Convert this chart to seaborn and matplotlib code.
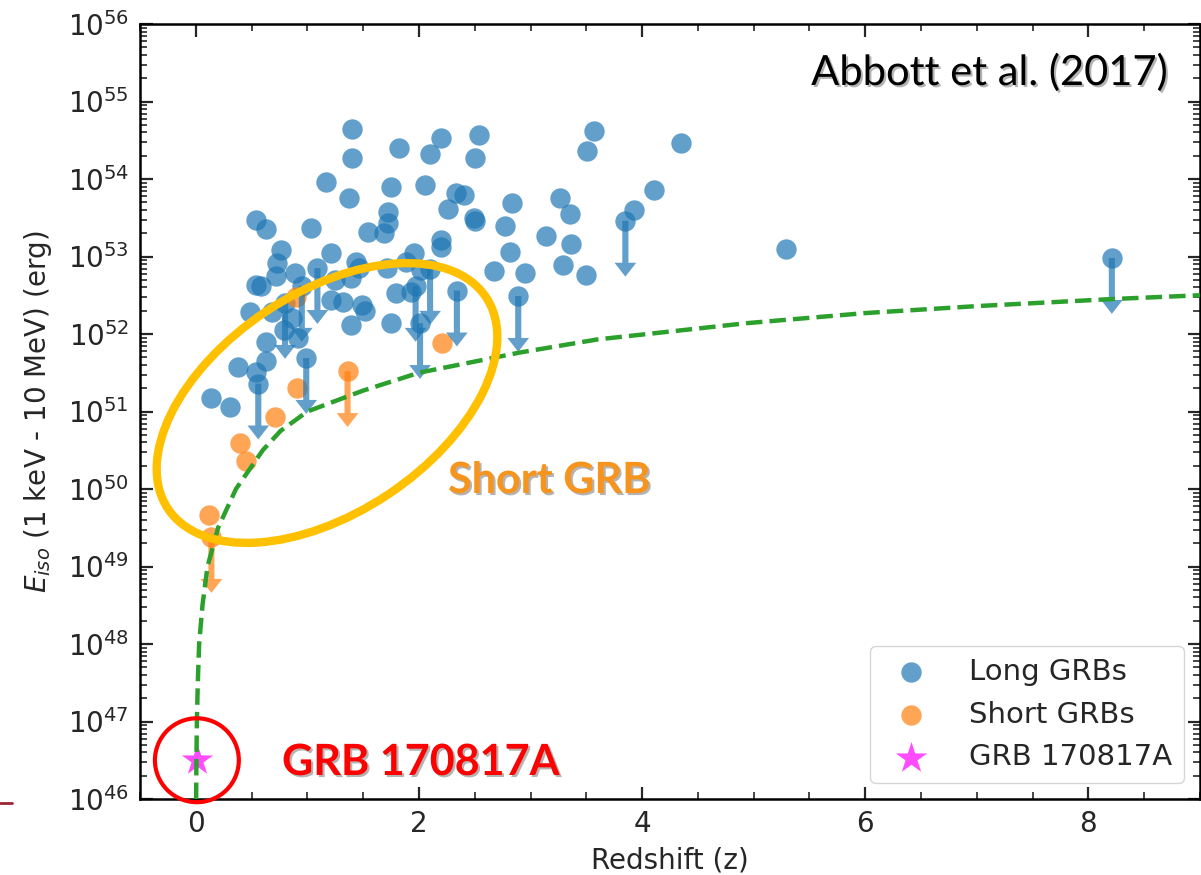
import numpy as np
import matplotlib
matplotlib.use("Agg")
import matplotlib.pyplot as plt
import matplotlib.patheffects as pe
from matplotlib.patches import Ellipse, FancyArrowPatch
from matplotlib.lines import Line2D
from matplotlib.ticker import MultipleLocator, LogLocator, NullFormatter, FixedLocator
import seaborn as sns

# ---------------- data ----------------
# Long GRBs, detections: redshift and log10(E_iso / erg)
long_z = [1.40, 1.40, 1.82, 2.20, 2.10, 2.54, 2.50, 1.17, 1.37, 1.75, 2.05, 2.33, 2.40,
          2.26, 2.49, 2.50, 2.83, 2.77, 2.82, 2.67, 2.95, 3.26, 3.35, 3.14, 3.36, 3.29,
          3.57, 3.51, 4.35, 4.11, 3.93, 3.50, 5.29,
          0.54, 0.63, 1.03, 1.54, 1.72, 1.72, 1.69, 0.76, 0.73, 0.72, 1.21, 1.44, 2.20,
          2.20, 1.96, 1.88, 2.02, 0.54, 0.58, 0.89, 1.25, 1.39, 1.46, 1.71, 1.79, 1.93,
          0.49, 0.68, 0.86, 1.21, 1.32, 1.49, 1.52, 1.39, 1.75, 0.63, 0.38, 0.54, 0.63,
          0.14, 0.31, 0.79, 0.92]
long_logE = [54.65, 54.27, 54.40, 54.53, 54.32, 54.57, 54.27, 53.96, 53.76, 53.90, 53.92,
             53.82, 53.79, 53.61, 53.50, 53.46, 53.69, 53.39, 53.06, 52.81, 52.79, 53.76,
             53.55, 53.27, 53.16, 52.89, 54.62, 54.36, 54.46, 53.86, 53.60, 52.76, 53.10,
             53.47, 53.36, 53.37, 53.32, 53.57, 53.43, 53.30, 53.08, 52.92, 52.75, 53.05,
             52.93, 53.21, 53.12, 53.05, 52.93, 52.83, 52.63, 52.62, 52.79, 52.70, 52.72,
             52.85, 52.85, 52.53, 52.54, 52.28, 52.28, 52.21, 52.44, 52.41, 52.37, 52.30,
             52.12, 52.14, 51.90, 51.57, 51.51, 51.65, 51.17, 51.06, 52.05, 51.95]

# Long GRBs, upper limits
long_ul_z = [1.09, 0.95, 0.80, 0.99, 0.56, 2.10, 1.97, 2.01, 2.34, 3.85, 2.89, 8.21]
long_ul_logE = [52.85, 52.62, 52.40, 51.69, 51.36, 52.84, 52.62, 52.14, 52.56, 53.46,
                52.49, 52.98]

# Short GRBs, detections and upper limits
short_z = [0.90, 0.91, 0.71, 0.40, 0.45, 0.12, 2.21]
short_logE = [52.48, 51.30, 50.93, 50.59, 50.36, 49.67, 51.88]
short_ul_z = [1.36, 0.14]
short_ul_logE = [51.52, 49.38]

# GRB 170817A
star_z = [0.0098]
star_logE = [46.50]

# sensitivity curve (dashed green line)
curve_z = [0.0031, 0.0055, 0.0098, 0.018, 0.03, 0.06, 0.105, 0.2, 0.36, 0.6, 0.76, 1.0,
           1.5, 2.0, 2.9, 3.6, 4.94, 6.0, 7.0, 8.2, 9.0]
curve_logE = [46.0, 46.5, 47.0, 47.5, 48.0, 48.5, 49.0, 49.5, 50.0, 50.5, 50.75, 51.0,
              51.27, 51.5, 51.76, 51.93, 52.14, 52.27, 52.36, 52.45, 52.5]

# y-axis decades shown
y_decades = list(range(46, 57))

ul_drop = 0.72  # decades, length of upper-limit arrows

# ---------------- plotting ----------------
sns.set_style("ticks")
plt.rcParams["font.family"] = ["DejaVu Sans"]
plt.rcParams["mathtext.fontset"] = "dejavusans"

W, H = 1201, 875
fig = plt.figure(figsize=(W / 100, H / 100), dpi=100)
ax = fig.add_axes([140 / W, (H - 799) / H, 1060 / W, 775 / H])

blue = "#1f77b4"
orange = "#ff7f0e"

all_long_z = long_z + long_ul_z
all_long_E = list(10 ** np.array(long_logE + long_ul_logE))
all_short_z = short_z + short_ul_z
all_short_E = list(10 ** np.array(short_logE + short_ul_logE))

sns.lineplot(x=curve_z, y=10 ** np.array(curve_logE), sort=False, ax=ax,
             color="#2ca02c", lw=3.2, linestyle="--", zorder=3)

sns.scatterplot(x=all_long_z, y=all_long_E, s=215, color=blue, alpha=0.7,
                linewidth=0, label="Long GRBs", ax=ax, zorder=2)
sns.scatterplot(x=all_short_z, y=all_short_E, s=215, color=orange, alpha=0.7,
                linewidth=0, label="Short GRBs", ax=ax, zorder=2)
sns.scatterplot(x=star_z, y=10 ** np.array(star_logE), s=560, marker="*",
                color="magenta", alpha=0.7, linewidth=0, label="GRB 170817A",
                ax=ax, zorder=2)

arrow_kw = dict(arrowstyle="simple,head_length=0.5,head_width=0.78,tail_width=0.22",
                lw=0, shrinkA=0, shrinkB=0, mutation_scale=20, alpha=0.7, zorder=2)
for zs, les, col in ((long_ul_z, long_ul_logE, blue), (short_ul_z, short_ul_logE, orange)):
    for z, le in zip(zs, les):
        ax.add_patch(FancyArrowPatch((z, 10 ** le), (z, 10 ** (le - ul_drop)),
                                     color=col, **arrow_kw))

# red circle around GRB 170817A
ax.scatter(star_z, 10 ** np.array(star_logE), s=3650, facecolors="none",
           edgecolors="red", linewidths=3, zorder=4, clip_on=False)

ax.set_yscale("log")
ax.set_xlim(-0.5, 9)
ax.set_ylim(10.0 ** y_decades[0], 10.0 ** y_decades[-1])
ax.xaxis.set_major_locator(MultipleLocator(2))
ax.xaxis.set_minor_locator(MultipleLocator(0.5))
ax.yaxis.set_major_locator(FixedLocator([10.0 ** k for k in y_decades]))
ax.yaxis.set_minor_locator(LogLocator(base=10, subs=np.arange(2, 10), numticks=20))
ax.yaxis.set_minor_formatter(NullFormatter())
ax.tick_params(which="both", direction="in", top=True, right=True, labelsize=20)
ax.tick_params(which="major", length=9, width=1.6, pad=8)
ax.tick_params(which="minor", length=5, width=1.2)
for s in ax.spines.values():
    s.set_linewidth(1.8)
    s.set_color("black")

ax.set_xlabel("Redshift (z)", fontsize=20, labelpad=6)
ax.set_ylabel(r"$E_{iso}$ (1 keV - 10 MeV) (erg)", fontsize=20, labelpad=10)

leg = ax.legend(loc="lower right", fontsize=21, frameon=True, borderaxespad=0.55,
                handletextpad=1.0, labelspacing=0.5)
leg.get_frame().set_edgecolor("0.8")

# gold ellipse highlighting the short GRBs
ell = Ellipse((327 / 100, (H - 403) / 100), 3.82, 2.20, angle=33.6,
              transform=fig.dpi_scale_trans, fill=False, edgecolor="#FFC000",
              lw=6, zorder=5, clip_on=False)
fig.add_artist(ell)

shadow = [pe.withSimplePatchShadow(offset=(1.5, -1.5), shadow_rgbFace="0.35", alpha=0.45)]
fig.text(1167 / W, (H - 85) / H, "Abbott et al. (2017)", ha="right", va="baseline",
         fontsize=30, family=["Lato", "DejaVu Sans"], color="black", path_effects=shadow)
fig.text(448 / W, (H - 493) / H, "Short GRB", ha="left", va="baseline",
         fontsize=31, family=["Lato", "DejaVu Sans"], weight="bold", color="#F7941D",
         path_effects=shadow)
fig.text(282 / W, (H - 775) / H, "GRB 170817A", ha="left", va="baseline",
         fontsize=31, family=["Lato", "DejaVu Sans"], weight="bold", color="#FF0000",
         path_effects=shadow)

fig.add_artist(Line2D([0, 12 / W], [(H - 803) / H] * 2, color="#9B2335", lw=2))

fig.savefig("out.png", dpi=100)
